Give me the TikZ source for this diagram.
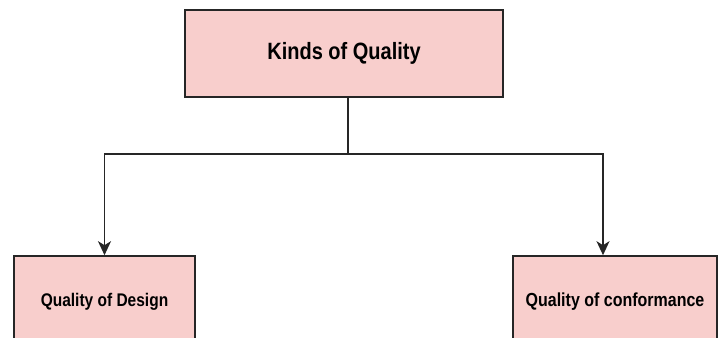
\documentclass[tikz,border=0pt]{standalone}
\usepackage{fontspec}
\setmainfont{Liberation Sans}
\usetikzlibrary{arrows.meta}

\definecolor{boxpink}{RGB}{248,206,204}
\newcommand{\tallText}[1]{\scalebox{1}[1.18]{#1}}

\begin{document}
\begin{tikzpicture}[x=1pt,y=-1pt,
   kindbox/.style={draw=black!85,fill=boxpink,line width=1.6pt,inner sep=0pt,font=\bfseries},
   link/.style={draw=black!85,line width=1.6pt},
   arrow/.style={link,-{Stealth[length=14pt,width=13pt,inset=4pt]}}]

   \clip (0,0) rectangle (722,337);
   \fill[white] (0,0) rectangle (722,337);

   % boxes
   \node[kindbox,minimum width=318pt,minimum height=87pt,font=\bfseries\fontsize{20}{24}\selectfont] (kinds) at (344,53.5) {\tallText{Kinds of Quality}};
   \node[kindbox,minimum width=181pt,minimum height=92pt,font=\bfseries\fontsize{15.5}{19}\selectfont] (design) at (104.5,302) {\tallText{Quality of Design}};
   \node[kindbox,minimum width=204pt,minimum height=92pt,font=\bfseries\fontsize{16}{19}\selectfont] (conform) at (615,302) {\tallText{Quality of conformance}};

   % connectors
   \coordinate (split) at (348,154);
   \draw[link] ([xshift=4pt]kinds.south) -- (split);
   \draw[arrow] (split) -| (design.north);
   \draw[arrow] (split) -| ([xshift=-12pt]conform.north);

\end{tikzpicture}
\end{document}
